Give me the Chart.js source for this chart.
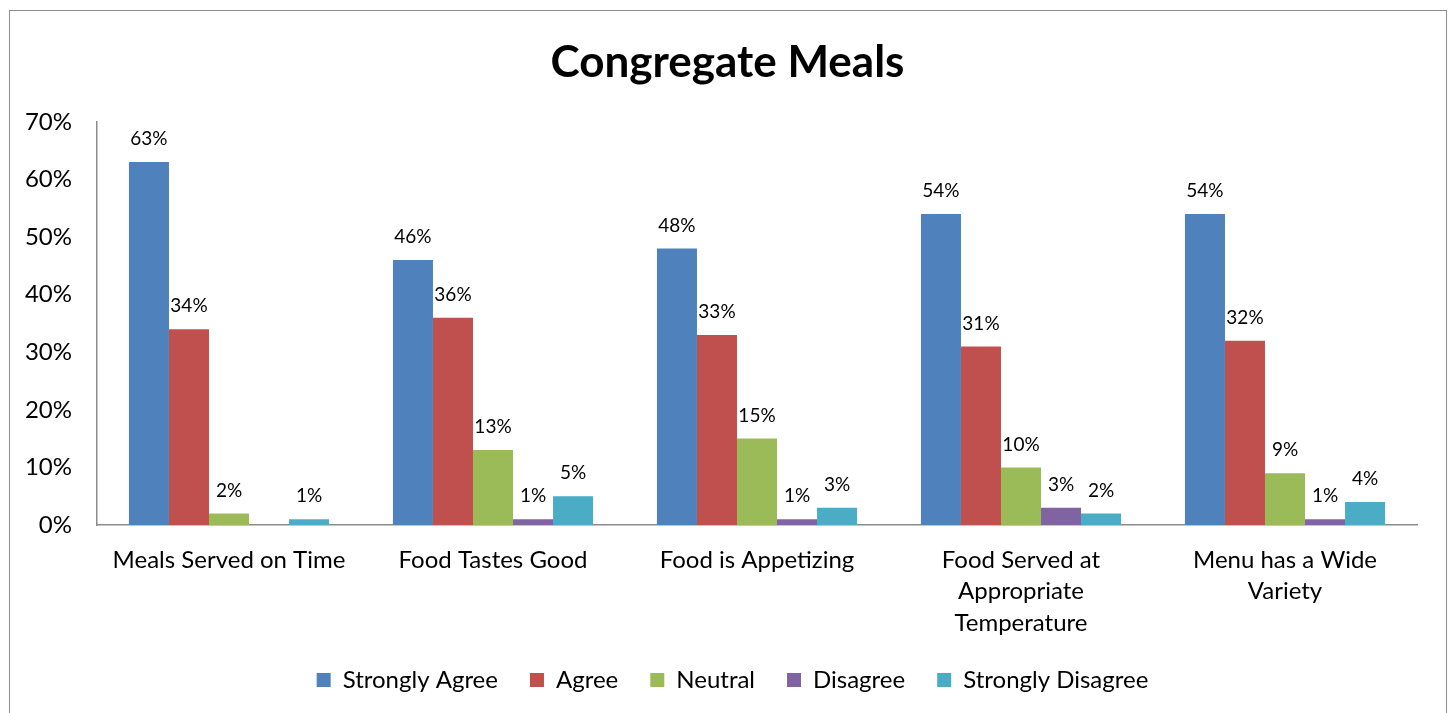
<!DOCTYPE html>
<html>
<head>
<meta charset="utf-8">
<script src="https://cdn.jsdelivr.net/npm/chart.js@4"></script>
<style>
  body { margin: 0; background: #fff; overflow: hidden; }
  .frame { position: absolute; left: 9px; top: 10px; width: 1436px; height: 720px; border: 1px solid #8c8c8c; }
  canvas { display: block; }
</style>
</head>
<body>
<div class="frame"><canvas id="chart" width="1436" height="702"></canvas></div>
<script>
const categories = [
  "Meals Served on Time",
  "Food Tastes Good",
  "Food is Appetizing",
  ["Food Served at", "Appropriate", "Temperature"],
  ["Menu has a Wide", "Variety"]
]
const seriesNames = ["Strongly Agree", "Agree", "Neutral", "Disagree", "Strongly Disagree"]
const stronglyAgree = [63, 46, 48, 54, 54]
const agree = [34, 36, 33, 31, 32]
const neutral = [2, 13, 15, 10, 9]
const disagree = [0, 1, 1, 3, 1]
const stronglyDisagree = [1, 5, 3, 2, 4]
const yTicks = [0, 10, 20, 30, 40, 50, 60, 70]
const colors = ["#4F81BD", "#C0504D", "#9BBB59", "#8064A2", "#4BACC6"]

const fontName = "Lato, 'Open Sans', sans-serif"

// value labels above each bar (skip zero bars)
const barLabels = {
  id: "barLabels",
  afterLayout(chart) {
    // centre title and legend on the whole frame, not on the padded area
    chart.titleBlock.left += 8
    chart.titleBlock.right += 8
    chart.legend.left += 13
    chart.legend.right += 13
  },
  afterDatasetsDraw(chart) {
    const ctx = chart.ctx
    ctx.save()
    ctx.font = "19px " + fontName
    ctx.fillStyle = "#000"
    ctx.textAlign = "center"
    ctx.textBaseline = "middle"
    chart.data.datasets.forEach((ds, i) => {
      chart.getDatasetMeta(i).data.forEach((bar, j) => {
        if (!ds.data[j]) return
        ctx.fillText(ds.data[j] + "%", bar.x, bar.y - 23)
      })
    })
    ctx.restore()
  }
}

const allSeries = [stronglyAgree, agree, neutral, disagree, stronglyDisagree]

new Chart(document.getElementById("chart"), {
  type: "bar",
  data: {
    labels: categories,
    datasets: allSeries.map((vals, i) => ({
      label: seriesNames[i],
      data: vals,
      backgroundColor: colors[i],
      borderWidth: 0,
      barPercentage: 1,
      categoryPercentage: 0.758
    }))
  },
  options: {
    responsive: false,
    animation: false,
    layout: { padding: { left: 12, right: 29, top: 0, bottom: 11 } },
    plugins: {
      title: {
        display: true,
        text: "Congregate Meals",
        color: "#000",
        font: { family: fontName, size: 44, weight: "bold" },
        padding: { top: 25, bottom: 33 }
      },
      legend: {
        position: "bottom",
        labels: {
          color: "#000",
          font: { family: fontName, size: 24 },
          boxWidth: 14,
          boxHeight: 14,
          padding: 32
        }
      },
      tooltip: { enabled: true }
    },
    scales: {
      x: {
        grid: { display: false, drawTicks: false },
        border: { color: "#8c8c8c", width: 1.5 },
        afterFit(scale) { scale.height = 111 },
        ticks: { color: "#000", font: { family: fontName, size: 24, lineHeight: 1.32 }, padding: 19, maxRotation: 0, autoSkip: false }
      },
      y: {
        min: 0,
        max: 70,
        afterBuildTicks(scale) { scale.ticks = yTicks.map(v => ({ value: v })) },
        afterFit(scale) { scale.width = 75 },
        grid: { display: false, drawTicks: false },
        border: { color: "#8c8c8c", width: 1.5 },
        ticks: { color: "#000", font: { family: fontName, size: 24 }, padding: 25, callback: v => v + "%" }
      }
    }
  },
  plugins: [barLabels]
})
</script>
</body>
</html>
